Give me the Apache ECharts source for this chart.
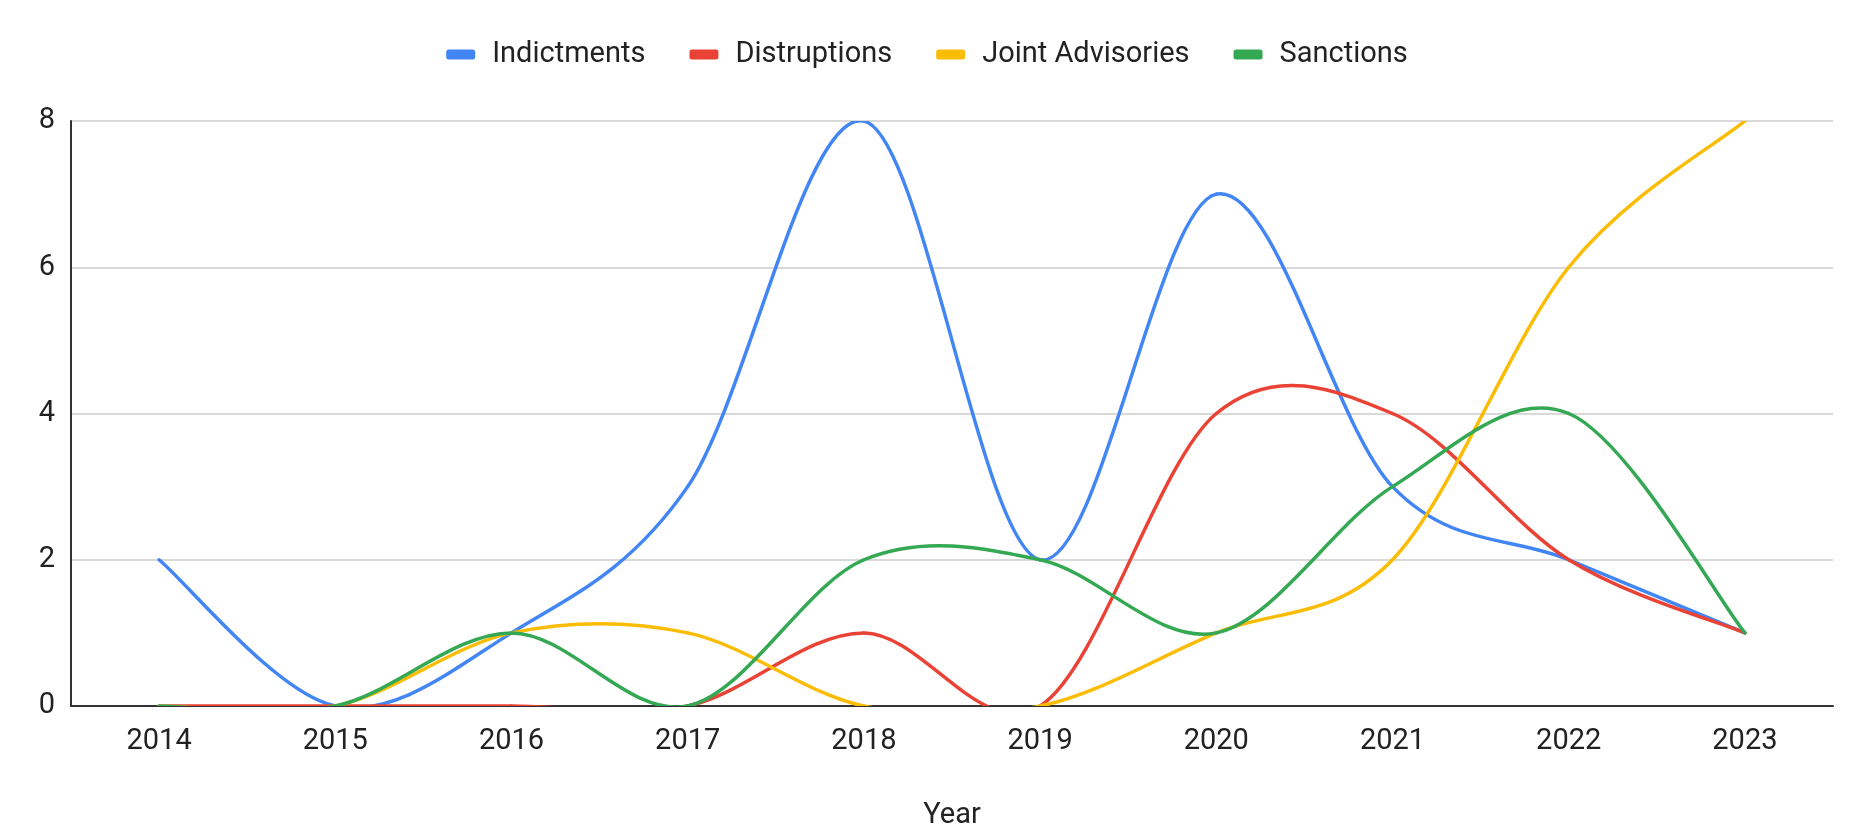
<!DOCTYPE html>
<html>
<head>
<meta charset="utf-8">
<script src="https://cdn.jsdelivr.net/npm/echarts@6/dist/echarts.min.js"></script>
<style>
html,body{margin:0;padding:0;background:#fff;}
#chart{width:1854px;height:825px;}
</style>
</head>
<body>
<div id="chart"></div>
<script>
const years = ['2014','2015','2016','2017','2018','2019','2020','2021','2022','2023'];
const indictments = [2,0,1,3,8,2,7,3,2,1];
const disruptions = [0,0,0,0,1,0,4,4,2,1];
const jointAdvisories = [0,0,1,1,0,0,1,2,6,8];
const sanctions = [0,0,1,0,2,2,1,3,4,1];
const seriesNames = ['Indictments','Distruptions','Joint Advisories','Sanctions'];
const colors = ['#4285F4','#EA4335','#FBBC04','#34A853'];
const yTicks = {min: 0, max: 8, interval: 2};

const font = 'Roboto, Arial, sans-serif';
const chart = echarts.init(document.getElementById('chart'));

// Catmull-Rom smoothed line (like Google Charts "function" curves), drawn
// segment by segment through the chart's own coordinate system.
function curveSeries(name, values, color) {
  const n = values.length;
  return {
    name, type: 'custom', clip: true,
    itemStyle: {color},
    encode: {x: 0, y: 1},
    data: values.map((v, i) => [i, v]),
    renderItem: function (params, api) {
      const i = params.dataIndex;
      if (i >= n - 1) return null;
      const P = k => {
        const kk = Math.max(0, Math.min(n - 1, k));
        return api.coord([kk, values[kk]]);
      };
      const p0 = P(i - 1), p1 = P(i), p2 = P(i + 1), p3 = P(i + 2);
      const cs = params.coordSys;
      return {
        type: 'bezierCurve',
        shape: {
          x1: p1[0], y1: p1[1], x2: p2[0], y2: p2[1],
          cpx1: p1[0] + (p2[0] - p0[0]) / 6, cpy1: p1[1] + (p2[1] - p0[1]) / 6,
          cpx2: p2[0] - (p3[0] - p1[0]) / 6, cpy2: p2[1] - (p3[1] - p1[1]) / 6
        },
        style: {stroke: color, lineWidth: 3.5, fill: null, lineCap: 'round'},
        clipPath: {type: 'rect', shape: {x: cs.x, y: cs.y - 2, width: cs.width, height: cs.height + 2}}
      };
    }
  };
}

chart.setOption({
  animation: false,
  color: colors,
  textStyle: {fontFamily: font},
  legend: {
    top: 40, left: 'center', padding: 0,
    itemWidth: 29, itemHeight: 10, itemGap: 44,
    icon: 'roundRect',
    textStyle: {fontSize: 29, color: '#222', fontFamily: font, padding: [0,0,0,12]},
    data: seriesNames
  },
  grid: {left: 71, right: 21, top: 121, bottom: 119, containLabel: false, outerBoundsMode: 'none'},
  xAxis: {
    type: 'category', data: years, boundaryGap: true,
    name: 'Year', nameLocation: 'middle', nameGap: 95,
    nameTextStyle: {fontSize: 29, color: '#222', fontFamily: font},
    axisLine: {lineStyle: {color: '#333', width: 2}},
    axisTick: {show: false},
    axisLabel: {fontSize: 29, color: '#222', margin: 21, fontFamily: font}
  },
  yAxis: {
    type: 'value', min: yTicks.min, max: yTicks.max, interval: yTicks.interval,
    axisLine: {show: true, lineStyle: {color: '#333', width: 2}},
    axisTick: {show: false},
    axisLabel: {fontSize: 29, color: '#222', margin: 16, fontFamily: font},
    splitLine: {lineStyle: {color: '#cccccc', width: 1.5}}
  },
  series: [
    curveSeries(seriesNames[0], indictments, colors[0]),
    curveSeries(seriesNames[1], disruptions, colors[1]),
    curveSeries(seriesNames[2], jointAdvisories, colors[2]),
    curveSeries(seriesNames[3], sanctions, colors[3])
  ]
});
</script>
</body>
</html>
